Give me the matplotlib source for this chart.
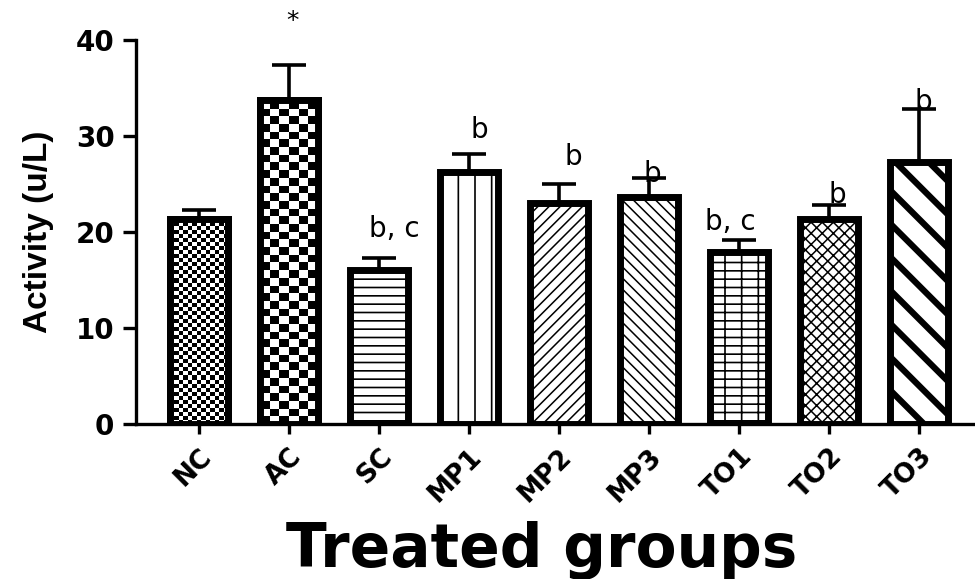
import numpy as np
import matplotlib
matplotlib.use("Agg")
import matplotlib.pyplot as plt

groups = ["NC", "AC", "SC", "MP1", "MP2", "MP3", "TO1", "TO2", "TO3"]
activity = [21.4, 33.8, 16.0, 26.3, 23.0, 23.6, 17.9, 21.4, 27.3]
sem = [0.9, 3.6, 1.3, 1.8, 2.05, 2.0, 1.3, 1.4, 5.5]
marks = ["", "*", "b,c", "b", "b", "b", "b,c", "b", "b"]
mark_y = [0, 42.0, 19.5, 29.8, 27.0, 25.2, 20.2, 23.0, 32.7]
mark_dx = [0, 0.04, 0.17, 0.11, 0.16, 0.03, -0.10, 0.09, 0.05]
hatches = [None, None, "--", "|", "///", "\\\\\\", "+-", "xxx", "\\"]
hatch_lw = [1, 1, 1.2, 1.2, 1.1, 1.1, 1.2, 1.1, 4.5]
checker_cells = {0: (13, 0.42), 1: (6, 0.8)}

fig = plt.figure(figsize=(9.75, 5.79), dpi=100)
ax = fig.add_axes([0.1395, 0.2677, 0.8605, 0.6632])

x = np.arange(len(groups))
ax.errorbar(x, activity, yerr=[np.zeros(len(sem)), sem], fmt="none",
            ecolor="black", elinewidth=2.6, capsize=12.5, capthick=2.6, zorder=1)

bars = []
for i in range(len(groups)):
    plt.rcParams["hatch.linewidth"] = hatch_lw[i]
    b = ax.bar(x[i], activity[i], width=0.64, color="white", edgecolor="black",
               linewidth=5, hatch=hatches[i], zorder=2)[0]
    bars.append(b)

# checkerboard fills for NC and AC
for i, (ncol, cell_h) in checker_cells.items():
    b = bars[i]
    nrow = int(np.ceil(b.get_height() / cell_h))
    board = (np.indices((nrow, ncol)).sum(axis=0) % 2).astype(float)
    im = ax.imshow(board, cmap="gray", interpolation="nearest", aspect="auto",
                   extent=(b.get_x(), b.get_x() + b.get_width(), 0, nrow * cell_h),
                   origin="lower", zorder=2.5)
    im.set_clip_path(b)
    # redraw edge on top
    ax.bar(x[i], activity[i], width=0.64, fill=False, edgecolor="black",
           linewidth=5, zorder=3)

for i, m in enumerate(marks):
    if not m:
        continue
    if m == "*":
        ax.text(x[i] + mark_dx[i], mark_y[i], m, ha="center", va="center",
                fontsize=18, family="DejaVu Sans", clip_on=False)
    else:
        ax.text(x[i] + mark_dx[i], mark_y[i], m.replace(",", ", "), ha="center",
                va="baseline", fontsize=20, family="DejaVu Sans", clip_on=False)

ax.set_xlim(-0.7, 8.62)
ax.set_ylim(0, 40)
ax.set_yticks([0, 10, 20, 30, 40])
ax.set_xticks(x)
ax.set_xticklabels(groups, rotation=45, ha="right", rotation_mode="anchor",
                   fontsize=19, fontweight="bold", family="DejaVu Sans")
for lab in ax.get_yticklabels():
    lab.set_fontsize(20)
    lab.set_fontweight("bold")
    lab.set_family("DejaVu Sans")

for s in ["top", "right"]:
    ax.spines[s].set_visible(False)
for s in ["left", "bottom"]:
    ax.spines[s].set_linewidth(2.4)
ax.tick_params(axis="y", length=9.5, width=2.4, pad=6)
ax.tick_params(axis="x", length=7, width=2.4, pad=7)

ax.set_ylabel("Activity (u/L)", fontsize=24, fontweight="bold",
              family="Liberation Sans")
ax.yaxis.set_label_coords(-0.098, 0.5)
fig.text(0.556, 0.02, "Treated groups", ha="center", va="baseline",
         fontsize=43, fontweight="bold", family="DejaVu Sans")

fig.savefig("out.png", dpi=100)
